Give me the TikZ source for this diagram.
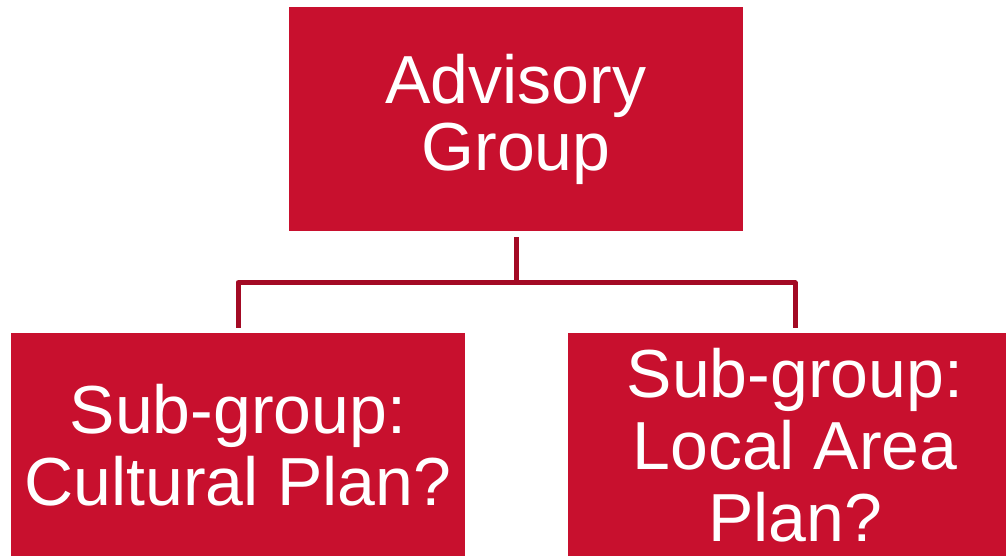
\documentclass[tikz,border=0pt]{standalone}
\usepackage{fontspec}
\setmainfont{Liberation Sans}
\usetikzlibrary{positioning}
\definecolor{boxred}{RGB}{200,16,46}
\definecolor{linkred}{RGB}{163,10,36}

\begin{document}
\begin{tikzpicture}[x=1pt,y=1pt,
    box/.style={fill=boxred,text=white,inner sep=0pt,align=center,
                minimum width=454pt,minimum height=224pt},
    link/.style={draw=linkred,line width=5pt,line join=round}]

                \useasboundingbox (0,0) rectangle (1006,556);

                \node[box,font=\fontsize{68}{67}\selectfont] (adv) at (516,437) {Advisory\\Group};

                \node[box,font=\fontsize{68}{72}\selectfont,minimum height=223pt] (cult) [below=102pt of adv,xshift=-278pt] {Sub-group:\\Cultural Plan?};

                \node[box,font=\fontsize{68}{72}\selectfont,minimum height=223pt] (loc) [below=102pt of adv,xshift=279pt] {Sub-group:\\Local Area\\Plan?};

                

                \coordinate (bus) at (516,273.3);

                \draw[link] ([yshift=-6pt]adv.south) -- (bus);

                \draw[link] ([yshift=5.5pt]cult.north) |- (bus) -| ([yshift=5.5pt]loc.north);

            \end{tikzpicture}
\end{document}
